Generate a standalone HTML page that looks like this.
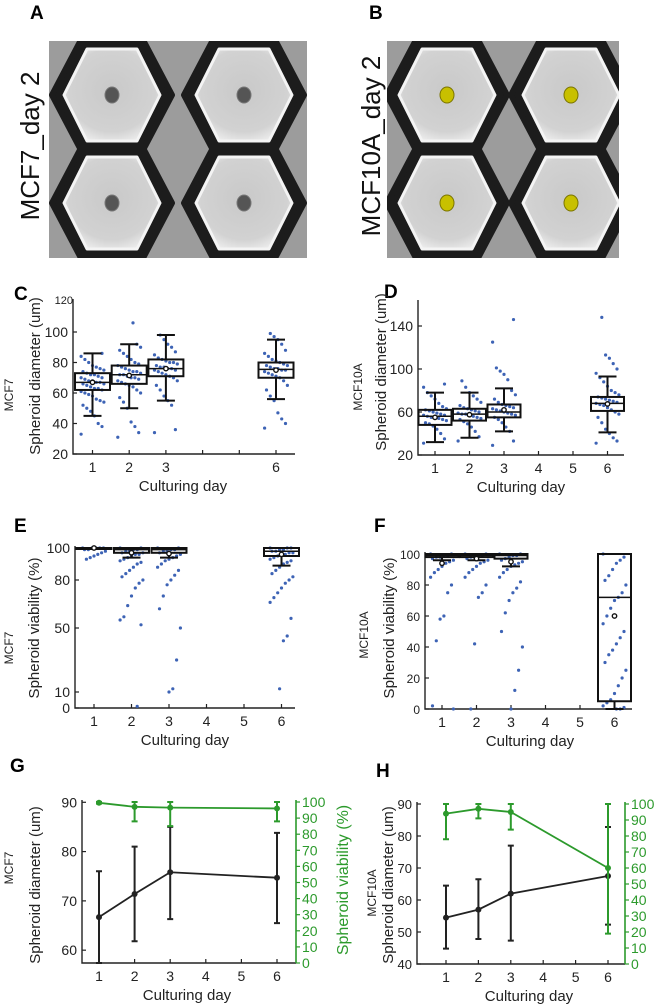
<!DOCTYPE html>
<html><head><meta charset="utf-8"><style>
html,body{margin:0;padding:0;background:#fff;}
svg{display:block;font-family:"Liberation Sans",sans-serif;}
.lbl{font-family:"Liberation Sans",sans-serif;font-weight:bold;font-size:19px;}
</style></head><body>
<svg id="fig" width="654" height="1008" viewBox="0 0 654 1008" xmlns="http://www.w3.org/2000/svg">
<defs>
<radialGradient id="wellg" cx="50%" cy="45%" r="60%"><stop offset="0" stop-color="#c9c9c9"/><stop offset="0.75" stop-color="#d2d2d2"/><stop offset="1" stop-color="#eeeeee"/></radialGradient>
</defs>
<text class="lbl" x="30" y="19">A</text>
<text class="lbl" x="369" y="19">B</text>
<text class="lbl" x="14" y="300">C</text>
<text class="lbl" x="384" y="298">D</text>
<text class="lbl" x="14" y="532">E</text>
<text class="lbl" x="374" y="532">F</text>
<text class="lbl" x="10" y="772">G</text>
<text class="lbl" x="376" y="777">H</text>
<text x="0" y="0" font-size="26" fill="#111" text-anchor="middle" transform="translate(39,146) rotate(-90)">MCF7_day 2</text>
<text x="0" y="0" font-size="26" fill="#111" text-anchor="middle" transform="translate(380,146) rotate(-90)">MCF10A_day 2</text>
</svg>
<script>
const NS='http://www.w3.org/2000/svg';
const svg=document.getElementById('fig');
function el(tag,attrs,parent){const e=document.createElementNS(NS,tag);for(const k in attrs)e.setAttribute(k,attrs[k]);(parent||svg).appendChild(e);return e;}

// ---------- photos ----------
const photoA={x:49,y:41,w:258,h:217,wells:[[112,95],[244,95],[112,203],[244,203]],sph:'#555',col:'#777'};
const photoB={x:387,y:41,w:232,h:217,wells:[[447,95],[571,95],[447,203],[571,203]],sph:'#c8c000',col:'#7a7400'};
function hexPts(cx,cy,hw,hh,t){return [[cx-t,cy-hh],[cx+t,cy-hh],[cx+hw,cy],[cx+t,cy+hh],[cx-t,cy+hh],[cx-hw,cy]].map(p=>p.join(',')).join(' ');}
function photo(p,name){
  const g=el('g',{});
  
  
  const cp=el('clipPath',{id:name+'-clip'},g);
  el('rect',{x:p.x,y:p.y,width:p.w,height:p.h},cp);
  const inner=el('g',{'clip-path':'url(#'+name+'-clip)'},g);
  el('rect',{x:p.x,y:p.y,width:p.w,height:p.h,fill:'#9c9c9c'},inner);
  p.wells.forEach((w,i)=>{
    const d=el('polygon',{points:hexPts(w[0],w[1],60,57,30),fill:'#1c1c1c','stroke':'#1c1c1c','stroke-width':6,'stroke-linejoin':'round'},inner);
    
    const l=el('polygon',{points:hexPts(w[0],w[1],48,46,25),fill:'url(#wellg)',stroke:'#f4f4f4','stroke-width':3,'stroke-linejoin':'round'},inner);
    
    const s=el('ellipse',{cx:w[0],cy:w[1],rx:7,ry:8,fill:p.sph,stroke:p.col,'stroke-width':1},inner);
    
  });
}
photo(photoA,'photo-mcf7');
photo(photoB,'photo-mcf10a');

// ---------- box plot data ----------
const cDays=[1,2,3,6];
const cBoxes=[[45,62,67,73,86,67],[50,66,72,78,92,71.5],[55,71,76,82,98,76],[56,70,75.5,80,95,75]]; // lo,q1,med,q3,hi,mean
const cPts=[
[33,38,40,45,48,50,52,54,55,56,58,59,60,61,62,63,63,64,65,66,66,67,67,68,68,69,70,70,71,72,72,73,74,75,76,77,78,80,82,84,86],
[31,34,38,41,50,54,57,60,62,64,65,66,67,68,69,70,70,71,72,72,73,74,74,75,76,77,78,79,80,82,84,86,88,90,92,106],
[34,36,52,55,58,62,65,68,70,71,72,73,74,75,75,76,76,77,77,78,79,80,80,81,82,83,85,87,90,92,95,98],
[37,40,43,47,55,58,62,65,68,70,71,72,73,74,75,75,76,76,77,78,78,79,80,81,82,84,86,88,92,95,97,99]];
const dDays=[1,2,3,6];
const dBoxes=[[32,48,56,62,78,55],[36,52,58,63,78,57.5],[42,55,60,67,82,62],[41,61,68,74,93,67.5]];
const dPts=[
[31,35,40,44,47,49,50,52,53,54,55,55,56,57,57,58,59,60,61,62,63,65,68,72,75,78,83,86],
[33,37,42,46,49,51,53,54,55,56,57,58,58,59,60,61,62,63,64,66,69,72,75,78,83,89],
[29,33,42,46,50,53,55,57,58,59,60,61,62,63,64,65,66,67,69,72,76,80,90,95,98,101,125,146],
[31,33,36,40,44,50,55,58,60,62,64,66,67,68,69,70,71,72,73,74,76,78,80,84,88,92,96,100,105,110,113,148]];
const eDays=[1,2,3,6];
const eBoxes=[[100,99.5,100,100,100,100],[94,97,99,100,100,97],[94,97,99,100,100,96.5],[89,95,98,100,100,96]];
const ePts=[
[100,100,100,100,100,99,99,98,97,96,95,94,93],
[100,100,99,99,98,98,97,97,96,96,95,94,93,92,91,90,88,86,84,82,80,78,75,70,64,57,55,52,1],
[100,100,99,99,98,98,97,96,95,94,93,92,90,88,86,83,80,77,70,62,50,30,12,10],
[100,100,100,99,99,98,98,97,97,96,96,95,94,93,92,91,90,88,86,84,82,80,78,75,72,69,66,56,45,42,12]];
const fDays=[1,2,3,6];
const fBoxes=[[96,98,99,100,100,94],[96,98,99,100,100,97],[92,97,99,100,100,95],[0,5,72,100,100,60]];
const fPts=[
[100,100,99,99,98,98,97,96,95,94,92,90,88,85,80,75,60,58,44,2,0],
[100,100,99,99,98,98,97,96,95,94,92,90,88,85,80,75,72,42,0],
[100,100,99,99,98,97,96,95,94,93,92,90,88,85,82,78,75,70,62,50,40,25,12,0],
[100,98,96,94,90,86,83,80,75,72,70,65,60,55,50,46,42,38,35,30,25,20,15,10,6,4,2,1,0,0]];

// ---------- line chart data ----------
const gDays=[1,2,3,6];
const gDiam=[66.7,71.4,75.8,74.7];
const gDiamLo=[57.4,61.8,66.3,65.5];
const gDiamHi=[76,81,85,83.8];
const gVia=[99.5,97,96.5,96];
const gViaLo=[99,88,85,88];
const gViaHi=[100,100,100,100];
const hDays=[1,2,3,6];
const hDiam=[54.5,57,62,67.5];
const hDiamLo=[44.8,47.8,47.3,52.3];
const hDiamHi=[64.5,66.5,77,82.8];
const hVia=[94,97,95,60];
const hViaLo=[78,91,84,19];
const hViaHi=[100,100,100,100];

const ink='#222';
const green='#2c9a2c';

function txt(x,y,s,size,opts,parent){const t=el('text',Object.assign({x:x,y:y,'font-size':size,fill:ink},opts||{}),parent);t.textContent=s;return t;}
function vtxt(x,y,s,size,fill,parent){const t=el('text',{x:0,y:0,'font-size':size,fill:fill||ink,'text-anchor':'middle',transform:'translate('+x+','+y+') rotate(-90)'},parent);t.textContent=s;return t;}

function axes(g,ax){
  const a=el('path',{d:'M'+ax.x0+','+ax.top+'V'+ax.y0+'H'+ax.x1,fill:'none',stroke:ink,'stroke-width':1.4},g);
  
  ax.yt.forEach(v=>{const y=ax.sy(v);
    const t=el('line',{x1:ax.x0,x2:ax.x0+4,y1:y,y2:y,stroke:ink,'stroke-width':1.2},g);
    
    const l=txt(ax.x0-5,y+5,String(v),ax.fs||14,{'text-anchor':'end'},g);
    
  });
  ax.xt.forEach(d=>{const x=ax.sx(d);
    const t=el('line',{x1:x,x2:x,y1:ax.y0,y2:ax.y0-4,stroke:ink,'stroke-width':1.2},g);
    
  });
  ax.xl.forEach(d=>{
    const l=txt(ax.sx(d),ax.y0+18,String(d),14,{'text-anchor':'middle'},g);
    
  });
  const xt=txt(ax.xtx,ax.y0+37,'Culturing day',15,{'text-anchor':'middle'},g);
  
  const yt=vtxt(ax.ytx,ax.yty,ax.ytitle,15,ink,g);
  
  const cl=vtxt(ax.clx,ax.cly,ax.cell,12,ink,g);
  
}

function boxPanel(name,ax,days,boxes,pts,bw){
  const g=el('g',{});
  
  
  axes(g,ax);
  days.forEach((d,i)=>{
    const x=ax.sx(d);const b=boxes[i];
    pts[i].forEach((v,j)=>{
      const jit=(((j*37)%13)-6)*1.9;
      const c=el('circle',{cx:x+jit,cy:ax.sy(v),r:1.6,fill:'#3d63b5'},g);
      
    });
    const w=el('path',{d:'M'+x+','+ax.sy(b[0])+'V'+ax.sy(b[1])+'M'+x+','+ax.sy(b[3])+'V'+ax.sy(b[4])+
      'M'+(x-9)+','+ax.sy(b[0])+'H'+(x+9)+'M'+(x-9)+','+ax.sy(b[4])+'H'+(x+9),stroke:'#111','stroke-width':2,fill:'none'},g);
    
    const r=el('rect',{x:x-bw/2,y:ax.sy(b[3]),width:bw,height:Math.max(1,ax.sy(b[1])-ax.sy(b[3])),fill:'none',stroke:'#111','stroke-width':2},g);
    
    const m=el('line',{x1:x-bw/2,x2:x+bw/2,y1:ax.sy(b[2]),y2:ax.sy(b[2]),stroke:'#111','stroke-width':1.5},g);
    
    const mc=el('circle',{cx:x,cy:ax.sy(b[5]),r:2.2,fill:'#fff',stroke:'#111','stroke-width':1.4},g);
    
  });
}

boxPanel('chart-c-mcf7-diameter',{x0:73,x1:295,y0:454,top:299,sx:d=>92.5+(d-1)*36.7,sy:v=>454-(v-20)*30.5/20,
  yt:[20,40,60,80,100],xt:[1,2,3,4,5,6],xl:[1,2,3,6],xtx:183,ytx:40,yty:376,ytitle:'Spheroid diameter (um)',clx:13,cly:395,cell:'MCF7'},
  cDays,cBoxes,cPts,35);
txt(73,304,'120',11,{'text-anchor':'end'});
boxPanel('chart-d-mcf10a-diameter',{x0:418,x1:624,y0:455,top:300,sx:d=>435+(d-1)*34.5,sy:v=>455-(v-20)*43/40,
  yt:[20,60,100,140],xt:[1,2,3,4,5,6],xl:[1,2,3,4,5,6],xtx:521,ytx:386,yty:372,ytitle:'Spheroid diameter (um)',clx:362,cly:387,cell:'MCF10A'},
  dDays,dBoxes,dPts,33);
boxPanel('chart-e-mcf7-viability',{x0:75,x1:295,y0:708,top:546,sx:d=>94+(d-1)*37.5,sy:v=>708-v*1.6,
  yt:[0,10,50,80,100],xt:[1,2,3,4,5,6],xl:[1,2,3,4,5,6],xtx:185,ytx:39,yty:628,ytitle:'Spheroid viability (%)',clx:13,cly:648,cell:'MCF7'},
  eDays,eBoxes,ePts,35);
boxPanel('chart-f-mcf10a-viability',{x0:425,x1:632,y0:709,top:552,fs:12,sx:d=>442+(d-1)*34.5,sy:v=>709-v*1.55,
  yt:[0,20,40,60,80,100],xt:[1,2,3,4,5,6],xl:[1,2,3,4,5,6],xtx:530,ytx:394,yty:628,ytitle:'Spheroid viability (%)',clx:368,cly:635,cell:'MCF10A'},
  fDays,fBoxes,fPts,33);

function linePanel(name,ax,days,diam,dlo,dhi,via,vlo,vhi,ryt){
  const g=el('g',{});
  
  
  axes(g,ax);
  const ra=el('line',{x1:ax.x1,x2:ax.x1,y1:ax.top,y2:ax.y0,stroke:green,'stroke-width':1.6},g);
  
  ryt.forEach(v=>{const y=ax.syR(v);
    const t=el('line',{x1:ax.x1,x2:ax.x1+4,y1:y,y2:y,stroke:green,'stroke-width':1.2},g);
    
    const l=txt(ax.x1+6,y+5,String(v),14,{fill:green},g);
    
  });
  if(ax.rtitle){const rt=vtxt(ax.rtx,ax.rty,ax.rtitle,16,green,g);}
  function series(vals,lo,hi,sy,col,nm){
    const ln=el('polyline',{points:days.map((d,i)=>ax.sx(d)+','+sy(vals[i])).join(' '),fill:'none',stroke:col,'stroke-width':1.8},g);
    
    days.forEach((d,i)=>{const x=ax.sx(d);
      const e=el('path',{d:'M'+x+','+sy(lo[i])+'V'+sy(hi[i])+'M'+(x-3)+','+sy(lo[i])+'H'+(x+3)+'M'+(x-3)+','+sy(hi[i])+'H'+(x+3),stroke:col,'stroke-width':2,fill:'none'},g);
      
      const p=el('circle',{cx:x,cy:sy(vals[i]),r:3,fill:col},g);
      
    });
  }
  series(diam,dlo,dhi,ax.sy,'#222','diameter');
  series(via,vlo,vhi,ax.syR,green,'viability');
}
linePanel('chart-g-mcf7-summary',{x0:82,x1:296,y0:963,top:800,sx:d=>99+(d-1)*35.6,sy:v=>Math.min(963,963-(v-57.4)*4.93),syR:v=>963-v*1.61,
  yt:[60,70,80,90],xt:[1,2,3,4,5,6],xl:[1,2,3,4,5,6],xtx:187,ytx:40,yty:885,ytitle:'Spheroid diameter (um)',clx:13,cly:868,cell:'MCF7',
  rtx:348,rty:880,rtitle:'Spheroid viability (%)'},gDays,gDiam,gDiamLo,gDiamHi,gVia,gViaLo,gViaHi,[0,10,20,30,40,50,60,70,80,90,100]);
linePanel('chart-h-mcf10a-summary',{x0:417,x1:625,y0:964,top:802,fs:13,sx:d=>446+(d-1)*32.4,sy:v=>964-(v-40)*3.2,syR:v=>964-v*1.6,
  yt:[40,50,60,70,80,90],xt:[1,2,3,4,5,6],xl:[1,2,3,4,5,6],xtx:529,ytx:393,yty:885,ytitle:'Spheroid diameter (um)',clx:376,cly:893,cell:'MCF10A'},
  hDays,hDiam,hDiamLo,hDiamHi,hVia,hViaLo,hViaHi,[0,10,20,30,40,50,60,70,80,90,100]);
</script>
</body></html>
